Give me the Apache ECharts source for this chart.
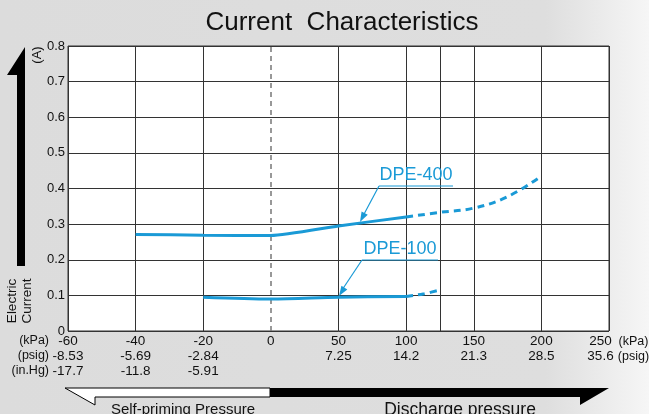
<!DOCTYPE html>
<html>
<head>
<meta charset="utf-8">
<script src="https://cdn.jsdelivr.net/npm/echarts@6/dist/echarts.min.js"></script>
<style>
html,body{margin:0;padding:0;}
body{width:649px;height:414px;overflow:hidden;background:linear-gradient(to right,#dcdcdc 0%,#dedede 84%,#f6f6f6 100%);}
#c{width:649px;height:414px;}
</style>
</head>
<body>
<div id="c"></div>
<script>
// ---- data ----
var kpaTicks = [-60, -40, -20, 0, 50, 100, 150, 200, 250];
var psigLabels = ['-8.53', '-5.69', '-2.84', '', '7.25', '14.2', '21.3', '28.5', '35.6'];
var inHgLabels = ['-17.7', '-11.8', '-5.91', '', '', '', '', '', ''];
var yTicks = [0, 0.1, 0.2, 0.3, 0.4, 0.5, 0.6, 0.7, 0.8];

var dpe400SolidKpa = [-40, -20, 0, 50, 100];
var dpe400SolidA   = [0.271, 0.269, 0.268, 0.295, 0.32];
var dpe400DashKpa  = [100, 125, 150, 175, 200];
var dpe400DashA    = [0.32, 0.333, 0.345, 0.377, 0.435];

var dpe100SolidKpa = [-20, 0, 50, 100];
var dpe100SolidA   = [0.095, 0.09, 0.095, 0.097];
var dpe100DashKpa  = [100, 112.5, 125];
var dpe100DashA    = [0.097, 0.104, 0.115];

var extraGridKpa = [125];
var seriesNames = ['DPE-400', 'DPE-100'];

// Axis is piecewise: 20 kPa per division below 0, 50 kPa per division above 0
function toAxis(k) { return k < 0 ? k / 20 : k / 50; }
function pairs(xs, ys) { return xs.map(function (x, i) { return [toAxis(x), ys[i]]; }); }

var FONT = '"Liberation Sans", Arial, Helvetica, sans-serif';
var BLUE = '#1a9ad6';
var GRID = '#333333';
var TFS = 13.5;

var chart = echarts.init(document.getElementById('c'), null, {renderer: 'canvas'});

var vColors = kpaTicks.map(function (k) { return k === 0 ? 'rgba(0,0,0,0)' : GRID; });

function arrowHead(x1, y1, x2, y2, len, w) {
  var dx = x2 - x1, dy = y2 - y1, d = Math.sqrt(dx * dx + dy * dy);
  var ux = dx / d, uy = dy / d;
  var bx = x2 - ux * len, by = y2 - uy * len;
  return [[x2, y2], [bx - uy * w, by + ux * w], [bx + uy * w, by - ux * w]];
}

var option = {
  backgroundColor: 'transparent',
  animation: false,
  textStyle: {fontFamily: FONT},
  title: {
    text: 'Current  Characteristics',
    left: 337, top: 5, textAlign: 'center',
    textStyle: {fontFamily: FONT, fontSize: 26, fontWeight: 'normal', color: '#111'}
  },
  grid: {left: 68, right: 40, top: 46, bottom: 83, containLabel: false, outerBoundsMode: 'none',
         show: true, backgroundColor: '#fff', borderColor: '#333', borderWidth: 1},
  xAxis: {
    type: 'value', min: -3, max: 5, interval: 1,
    axisLine: {show: false}, axisTick: {show: false},
    splitLine: {show: true, lineStyle: {color: vColors, width: 1}},
    axisLabel: {
      margin: 3, color: '#111', fontSize: TFS, lineHeight: 15, fontFamily: FONT,
      formatter: function (v) {
        var i = Math.round(v) + 3;
        if (i === kpaTicks.length - 1) {
          return '{a|' + kpaTicks[i] + '}{b|(kPa)}\n{a|' + psigLabels[i] + '}{b|(psig)}';
        }
        var s = String(kpaTicks[i]);
        if (psigLabels[i]) s += '\n' + psigLabels[i];
        if (inHgLabels[i]) s += '\n' + inHgLabels[i];
        return s;
      },
      rich: {
        a: {width: 28, align: 'right', fontSize: TFS, lineHeight: 15, color: '#111', fontFamily: FONT, padding: [0, 0, 0, 19]},
        b: {width: 34, align: 'left', fontSize: 12.5, lineHeight: 15, color: '#111', fontFamily: FONT, padding: [0, 0, 0, 2]}
      }
    }
  },
  yAxis: {
    type: 'value', min: 0, max: 0.8, interval: 0.1,
    axisLine: {show: false}, axisTick: {show: false},
    splitLine: {show: true, lineStyle: {color: GRID, width: 1}},
    axisLabel: {
      margin: 3, color: '#111', fontSize: 13, fontFamily: FONT,
      formatter: function (v) { var i = Math.round(v * 10); return String(yTicks[i]); }
    }
  },
  series: [
    {
      type: 'line', name: seriesNames[0], data: pairs(dpe400SolidKpa, dpe400SolidA),
      showSymbol: false, smooth: 0.2, lineStyle: {color: BLUE, width: 3}, z: 5,
      markLine: {
        silent: true, symbol: 'none', label: {show: false},
        data: [
          {xAxis: 0, lineStyle: {color: '#777', type: [5, 4], width: 1.5}}
        ].concat(extraGridKpa.map(function (k) { return {xAxis: toAxis(k), lineStyle: {color: GRID, type: 'solid', width: 1}}; }))
      }
    },
    {
      type: 'line', name: seriesNames[0] + ' (dashed)', data: pairs(dpe400DashKpa, dpe400DashA),
      showSymbol: false, smooth: 0.4, lineStyle: {color: BLUE, width: 3, type: [7, 5]}, z: 5
    },
    {
      type: 'line', name: seriesNames[1], data: pairs(dpe100SolidKpa, dpe100SolidA),
      showSymbol: false, smooth: 0.3, lineStyle: {color: BLUE, width: 3}, z: 5
    },
    {
      type: 'line', name: seriesNames[1] + ' (dashed)', data: pairs(dpe100DashKpa, dpe100DashA),
      showSymbol: false, smooth: 0.3, lineStyle: {color: BLUE, width: 3, type: [7, 5]}, z: 5
    }
  ],
  graphic: [
    // left unit labels
    {type: 'text', x: 49, y: 334, style: {text: '(kPa)', align: 'right', font: '12.5px ' + FONT, fill: '#111'}},
    {type: 'text', x: 49, y: 349, style: {text: '(psig)', align: 'right', font: '12.5px ' + FONT, fill: '#111'}},
    {type: 'text', x: 49, y: 364, style: {text: '(in.Hg)', align: 'right', font: '12.5px ' + FONT, fill: '#111'}},
    // vertical arrow
    {type: 'polygon', shape: {points: [[17, 266], [17, 75], [7, 75], [25, 47], [25, 266]]}, style: {fill: '#000'}},
    {type: 'text', x: 37, y: 55, rotation: Math.PI / 2, style: {text: '(A)', align: 'center', verticalAlign: 'middle', font: '13px ' + FONT, fill: '#111'}},
    {type: 'text', x: 20, y: 301, rotation: Math.PI / 2, style: {text: 'Electric\nCurrent', align: 'center', verticalAlign: 'middle', lineHeight: 15, font: '13.5px ' + FONT, fill: '#111'}},
    // bottom arrows
    {type: 'polygon', shape: {points: [[65, 388], [270, 388], [270, 397], [95, 397], [95, 405]]}, style: {fill: '#fff', stroke: '#000', lineWidth: 1}},
    {type: 'polygon', shape: {points: [[270, 388], [609, 388], [580, 405], [580, 397], [270, 397]]}, style: {fill: '#000'}},
    {type: 'text', x: 183, y: 410, style: {text: 'Self-priming Pressure', align: 'center', verticalAlign: 'middle', font: '15px ' + FONT, fill: '#111'}},
    {type: 'text', x: 460, y: 410, style: {text: 'Discharge pressure', align: 'center', verticalAlign: 'middle', font: '17.5px ' + FONT, fill: '#111'}},
    // DPE-400 annotation
    {type: 'text', x: 416, y: 175, z: 20, style: {text: seriesNames[0], align: 'center', verticalAlign: 'middle', font: '18px ' + FONT, fill: BLUE}},
    {type: 'line', z: 20, shape: {x1: 379, y1: 186, x2: 453, y2: 186}, style: {stroke: BLUE, lineWidth: 1.2}},
    {type: 'line', z: 20, shape: {x1: 379, y1: 186, x2: 363, y2: 216}, style: {stroke: BLUE, lineWidth: 1.2}},
    {type: 'polygon', z: 20, shape: {points: arrowHead(379, 186, 360, 222, 10, 3.5)}, style: {fill: BLUE}},
    // DPE-100 annotation
    {type: 'text', x: 400, y: 249, z: 20, style: {text: seriesNames[1], align: 'center', verticalAlign: 'middle', font: '18px ' + FONT, fill: BLUE}},
    {type: 'line', z: 20, shape: {x1: 362, y1: 260, x2: 438, y2: 260}, style: {stroke: BLUE, lineWidth: 1.2}},
    {type: 'line', z: 20, shape: {x1: 362, y1: 260, x2: 342, y2: 290}, style: {stroke: BLUE, lineWidth: 1.2}},
    {type: 'polygon', z: 20, shape: {points: arrowHead(362, 260, 339, 296, 10, 3.5)}, style: {fill: BLUE}}
  ]
};
chart.setOption(option);
</script>
</body>
</html>
